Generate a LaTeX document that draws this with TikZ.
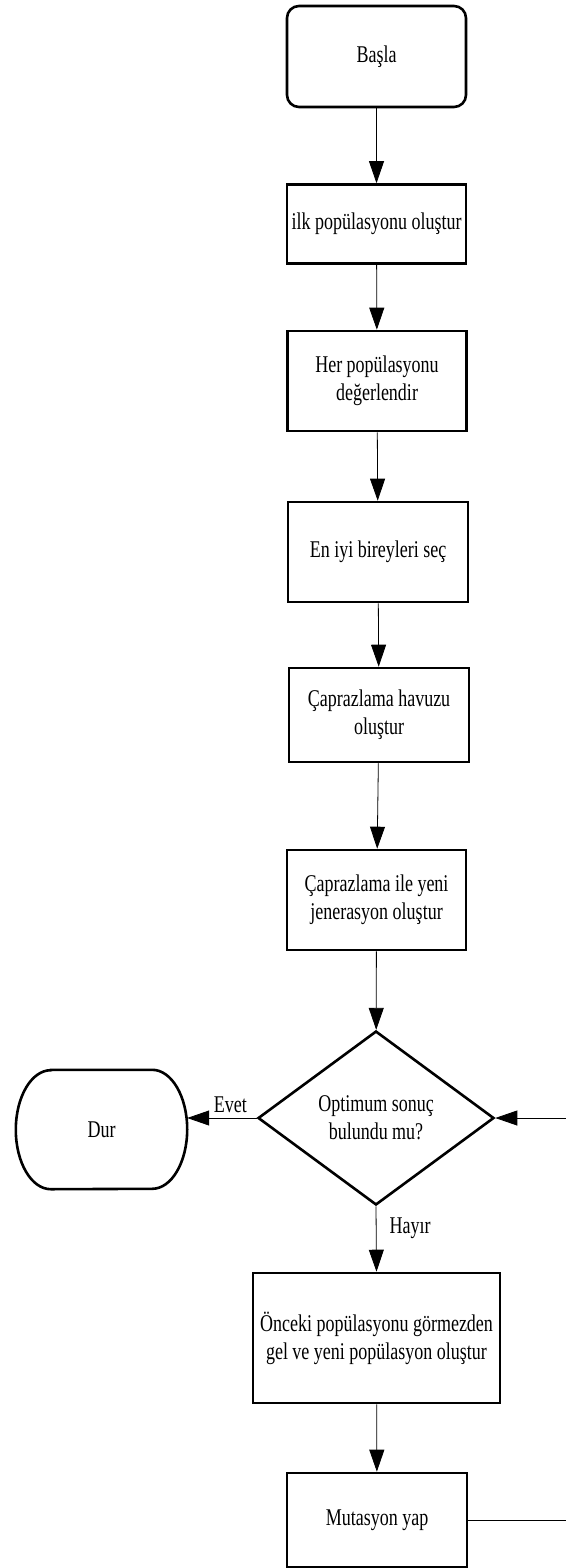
\documentclass[tikz,border=0pt]{standalone}
\usepackage{fontspec}
\setmainfont[FakeStretch=0.75]{Liberation Serif}
\usepackage{tikz}
\usetikzlibrary{arrows.meta,shapes.geometric}

\begin{document}
\begin{tikzpicture}[x=1pt,y=-1pt,>={Triangle[length=22pt,width=15pt]},
  font=\fontsize{24pt}{28pt}\selectfont,
  procbox/.style={draw,line width=2.6pt,align=center,inner sep=0pt},
  startbox/.style={procbox,rounded corners=12pt},
  decbox/.style={draw,diamond,line width=2.6pt,align=center,inner sep=0pt,minimum width=236pt,minimum height=174pt},
  flowarrow/.style={->,line width=0.8pt},
  flowlabel/.style={inner sep=0pt}]
\useasboundingbox (0,0) rectangle (565,1568);
\node[startbox,minimum width=179pt,minimum height=101pt] (start) at (376.5,56.5) {Başla};
\node[procbox,minimum width=179pt,minimum height=79pt] (init) at (376.5,224) {ilk popülasyonu oluştur};
\node[procbox,minimum width=179pt,minimum height=100pt] (eval) at (377,381) {Her popülasyonu\\değerlendir};
\node[procbox,minimum width=180pt,minimum height=100pt] (sel) at (378,552) {En iyi bireyleri seç};
\node[procbox,minimum width=180pt,minimum height=94pt] (pool) at (379,715) {Çaprazlama havuzu\\oluştur};
\node[procbox,minimum width=179pt,minimum height=100pt] (cross) at (376.5,900) {Çaprazlama ile yeni\\jenerasyon oluştur};
\node[decbox] (dec) at (376,1118) {Optimum sonuç\\bulundu mu?};
\node[minimum width=171pt,minimum height=119pt,inner sep=0pt] (stop) at (101.5,1129.5) {Dur};
\draw[line width=2.6pt] ([xshift=35pt]stop.north west) -- ([xshift=-35pt]stop.north east)
  arc[start angle=90,end angle=-90,x radius=35pt,y radius=59.5pt]
  -- ([xshift=35pt]stop.south west)
  arc[start angle=270,end angle=90,x radius=35pt,y radius=59.5pt] -- cycle;
\node[procbox,minimum width=247pt,minimum height=130pt] (renew) at (376.5,1338) {Önceki popülasyonu görmezden\\gel ve yeni popülasyon oluştur};
\node[procbox,minimum width=180pt,minimum height=94pt] (mut) at (377,1520) {Mutasyon yap};
% akis oklari
\draw[flowarrow] (start) -- (init);
\draw[flowarrow] (init) -- (eval);
\draw[flowarrow] (eval) -- (sel);
\draw[flowarrow] (sel) -- (pool);
\draw[flowarrow] (pool) -- (cross);
\draw[flowarrow] (cross) -- (dec);
\draw[flowarrow] (dec.west) -- node[flowlabel,above=5pt,pos=0.38]{Evet} (dec.west -| stop.east);
\draw[flowarrow] (dec.south) -- node[flowlabel,right=13pt,pos=0.34]{Hayır} (renew.north);
\draw[flowarrow] (renew) -- (mut);
% geri donus
\coordinate (looptop) at (568,1118);
\draw[flowarrow] (mut.east) -| (looptop) -- (dec.east);
\end{tikzpicture}
\end{document}
